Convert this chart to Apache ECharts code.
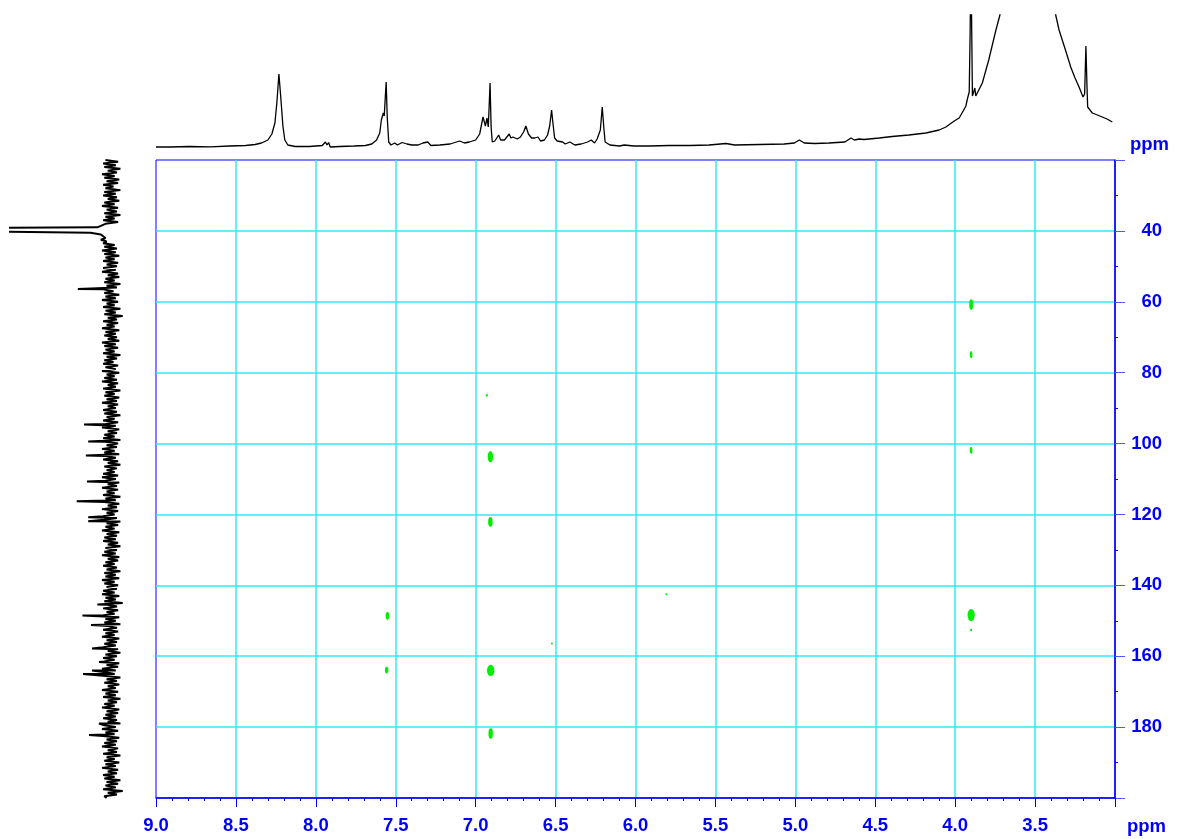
<!DOCTYPE html>
<html>
<head>
<meta charset="utf-8">
<title>HMBC</title>
<script src="https://cdn.jsdelivr.net/npm/echarts@6/dist/echarts.min.js"></script>
<style>
  html, body { margin: 0; padding: 0; background: #ffffff; }
  #chart { width: 1177px; height: 839px; }
</style>
</head>
<body>
<div id="chart"></div>
<script>
// ---- 1H projection (F2, top): [ppm, intensity] ----
const protonTrace = [
  [9.0,1],[8.91,1],[8.79,1.5],[8.66,1.2],[8.54,2],[8.44,2.5],[8.38,3.5],[8.34,5],[8.30,8],[8.275,14],
  [8.256,25],[8.244,45],[8.231,74],[8.219,50],[8.206,22],[8.194,8],[8.175,3],[8.13,1.5],[8.04,1.5],[7.96,2.5],
  [7.94,6],[7.93,3],[7.92,5.5],[7.91,1],[7.85,1.5],[7.76,2],[7.69,2.5],[7.65,4],[7.62,8],[7.60,15],
  [7.59,28],[7.578,35],[7.572,32],[7.56,66],[7.553,30],[7.544,6],[7.53,3],[7.506,5],[7.49,3],[7.46,5.5],
  [7.43,4],[7.40,3],[7.36,3],[7.33,5],[7.32,3],[7.30,6],[7.28,2.5],[7.225,3],[7.16,4],[7.10,7],
  [7.07,5],[7.04,6],[7.0,8],[6.975,14],[6.954,31],[6.939,22],[6.929,30],[6.921,21],[6.916,40],[6.91,65],
  [6.903,20],[6.896,6],[6.88,7],[6.856,13],[6.844,8],[6.833,9],[6.82,8],[6.79,14],[6.78,10],[6.767,11],
  [6.74,9],[6.72,11],[6.70,16],[6.686,22],[6.67,14],[6.65,10],[6.63,10],[6.62,8],[6.61,11],[6.594,7],
  [6.57,8],[6.55,13],[6.537,22],[6.525,38],[6.516,24],[6.506,10],[6.49,7],[6.456,6],[6.44,4],[6.41,6],
  [6.38,3],[6.34,4],[6.30,6],[6.277,8],[6.256,5],[6.24,9],[6.22,18],[6.208,41],[6.197,18],[6.19,6],
  [6.16,3],[6.10,2],[6.07,3],[6.01,2],[5.91,2],[5.79,2.5],[5.66,2.5],[5.54,3],[5.433,4.5],[5.38,3],
  [5.225,3.5],[5.07,4],[5.006,5],[4.975,8],[4.944,5],[4.88,4.5],[4.79,5],[4.69,6],[4.652,10],[4.63,8],
  [4.60,9],[4.57,8.5],[4.475,10],[4.394,11.5],[4.29,13],[4.183,15],[4.10,18],[4.058,21],[4.006,27],[3.975,30],
  [3.95,37],[3.933,42],[3.922,50],[3.912,56],[3.906,120],[3.902,200],[3.897,200],[3.892,52],[3.884,54],[3.877,60],
  [3.871,52],[3.86,53],[3.83,65],[3.79,88],[3.745,118],[3.72,133],[3.69,170],[3.55,260],[3.45,260],[3.40,170],
  [3.371,133],[3.35,118],[3.33,108],[3.306,96],[3.277,81],[3.25,70],[3.225,61],[3.20,51],[3.19,54],[3.182,102],
  [3.175,60],[3.171,41],[3.142,35],[3.11,33],[3.08,31],[3.05,29],[3.017,26]
];

// ---- 13C projection (F1, left): baseline trace every 0.5 ppm from 20 ppm ----
const carbonStart = 20;
const carbonStep = 0.5;
const carbonBaseline = [
  5,-6,7,-4,6,-8,3,-5,8,-3,6,-7,4,-6,7,-2,5,-8,6,-4,
  7,-5,3,-7,6,-3,8,-6,4,-5,6,-8,5,-3,7,-6,5,4,12,300,
  300,18,9,7,5,9,4,7,-3,6,-5,8,-4,6,-7,5,-3,7,-6,4,
  -5,7,-4,8,-6,3,-7,5,-3,6,-8,4,-5,7,-2,6,-7,5,-4,8,
  -6,4,-3,7,-8,5,-4,6,-10,3,-5,7,-6,4,-3,8,-7,5,-4,6,
  -5,3,-7,8,-4,6,-6,5,-3,7,-8,4,-5,6,-2,7,-6,5,-4,8,
  -7,4,-3,6,-5,8,-6,3,-4,7,-8,5,-3,6,-7,4,-5,8,-6,3,
  -4,7,-5,6,-8,4,-3,7,-6,5,-4,8,-7,3,-5,6,-3,7,-8,5,
  -6,4,-5,8,-3,6,-7,5,-4,7,-6,3,-8,6,-5,4,-3,7,-6,8,
  -4,5,-7,3,-5,8,-6,4,-3,7,-8,5,-4,6,-7,3,-5,8,-6,4,
  -3,7,-5,6,-8,4,-6,5,-3,8,-7,4,-5,6,-4,7,-6,3,-8,5,
  -5,6,-4,8,-7,3,-6,5,-3,7,-5,4,-8,6,-4,5,-7,8,-3,6,
  -6,4,-5,7,-3,8,-7,5,-4,6,-10,3,-5,7,-6,4,-3,8,-7,5,
  -4,6,-8,3,-5,7,-6,5,-3,8,-7,4,-5,6,-4,7,-6,3,-8,5,
  -5,7,-3,6,-7,4,-6,8,-4,5,-3,7,-8,4,-5,6,-7,3,-4,8,
  -6,5,-4,7,-8,3,-5,6,-3,8,-7,4,-6,5,-4,7,-5,3,-8,6,
  -4,8,-6,5,-3,7,-7,4,-5,6,-4,8,-6,3,-5,7,-8,4,-3,6,
  -7,5,-4,8,-6,3,-5,7,-3,6,-8,4,-6,5,-4,7,-10,3,-5,6,
  4
];
// sharp carbon resonances: [ppm, height]
const carbonLines = [
  [56.4,29],[94.6,23.6],[99.4,20],[103.4,22],[110.7,21],[116.3,30],[120.8,20],[121.9,20],
  [145.4,12],[148.5,25],[151.2,17.5],[157.8,16.7],[161.6,10.6],[164.0,16.7],[165.0,24.5],
  [179.0,10.6],[182.2,19.3]
];

// ---- HMBC cross peaks: 1H shift, 13C shift, contour extent in 1H and 13C (ppm) ----
const peakH    = [3.90, 3.90, 3.90, 3.90, 3.90, 6.93, 6.908, 6.908, 7.552, 7.557, 6.906, 6.906, 6.523, 5.806];
const peakC    = [60.8, 74.9, 101.9, 148.4, 152.6, 86.4, 103.7, 122.1, 148.6, 163.9, 164.0, 181.8, 156.4, 142.5];
const spanH    = [0.024, 0.016, 0.016, 0.045, 0.013, 0.013, 0.034, 0.028, 0.022, 0.022, 0.046, 0.028, 0.013, 0.013];
const spanC    = [3.0, 2.0, 2.0, 3.5, 0.7, 0.7, 3.2, 2.7, 2.2, 1.9, 3.2, 3.0, 0.55, 0.55];

// ---- axis ranges / ticks ----
const f2Range = [3, 9];
const f1Range = [20, 200];
const f2Step = 0.5;
const f1Step = 20;

// build series data
const carbonTrace = carbonBaseline
  .map((v, i) => [v, carbonStart + i * carbonStep])
  .concat(carbonLines.map(([c, h]) => [h, c]))
  .sort((a, b) => a[1] - b[1]);

const crossPeaks = peakH.map((h, i) => [h, peakC[i], spanH[i], spanC[i]]);

const BLUE = '#0000ff';
const CYAN = '#30e8f8';
const FONT = '"Liberation Sans", Arial, sans-serif';

const chart = echarts.init(document.getElementById('chart'), null, { renderer: 'canvas' });

const option = {
  backgroundColor: '#ffffff',
  animation: false,
  grid: [
    // 2D map
    { left: 156, top: 160, width: 959, height: 638, show: true, borderColor: BLUE, borderWidth: 1, backgroundColor: 'transparent' },
    // 1H projection
    { left: 156, top: 15, width: 959, height: 135 },
    // 13C projection
    { left: 10, top: 160, width: 115, height: 638 }
  ],
  xAxis: [
    {
      gridIndex: 0, type: 'value', min: f2Range[0], max: f2Range[1], interval: f2Step, inverse: true,
      axisLine: { show: true, onZero: false, lineStyle: { color: BLUE, width: 1.5 } },
      axisTick: { show: true, length: 9, lineStyle: { color: BLUE, width: 1 } },
      minorTick: { show: true, splitNumber: 5, length: 3, lineStyle: { color: BLUE, width: 1 } },
      splitLine: { show: true, showMinLine: false, showMaxLine: false, lineStyle: { color: CYAN, width: 1.5 } },
      axisLabel: {
        show: true, margin: 18, color: BLUE, fontFamily: FONT, fontWeight: 'bold', fontSize: 18.5,
        formatter: v => (v <= f2Range[0] + 1e-9 ? '' : v.toFixed(1)),
        showMinLabel: true, showMaxLabel: true
      }
    },
    { gridIndex: 1, type: 'value', min: f2Range[0], max: f2Range[1], inverse: true, show: false },
    { gridIndex: 2, type: 'value', min: -12, max: 88, inverse: true, show: false }
  ],
  yAxis: [
    {
      gridIndex: 0, type: 'value', position: 'right', min: f1Range[0], max: f1Range[1], interval: f1Step, inverse: true,
      axisLine: { show: true, onZero: false, lineStyle: { color: BLUE, width: 1.5 } },
      axisTick: { show: true, length: 10, lineStyle: { color: '#5555ff', width: 1 } },
      minorTick: { show: true, splitNumber: 2, length: 3, lineStyle: { color: BLUE, width: 1 } },
      splitLine: { show: true, showMinLine: false, showMaxLine: false, lineStyle: { color: CYAN, width: 1.5 } },
      axisLabel: {
        show: true, margin: 47, align: 'right', color: BLUE, fontFamily: FONT, fontWeight: 'bold', fontSize: 18.5,
        formatter: v => (v <= f1Range[0] || v >= f1Range[1] ? '' : String(v))
      }
    },
    { gridIndex: 1, type: 'value', min: -2, max: 133, show: false },
    { gridIndex: 2, type: 'value', min: f1Range[0], max: f1Range[1], inverse: true, show: false }
  ],
  series: [
    {
      type: 'custom', name: 'HMBC', xAxisIndex: 0, yAxisIndex: 0, data: crossPeaks, z: 5,
      renderItem: (params, api) => {
        const c = api.coord([api.value(0), api.value(1)]);
        const s = api.size([api.value(2), api.value(3)]);
        return {
          type: 'circle',
          x: c[0], y: c[1],
          scaleX: Math.max(Math.abs(s[0]) / 2, 0.9),
          scaleY: Math.max(Math.abs(s[1]) / 2, 0.9),
          shape: { cx: 0, cy: 0, r: 1 },
          style: { fill: '#00ee00' }
        };
      }
    },
    {
      type: 'line', name: '1H', xAxisIndex: 1, yAxisIndex: 1, data: protonTrace,
      showSymbol: false, symbol: 'none', clip: true,
      lineStyle: { color: '#000000', width: 1.3 }
    },
    {
      type: 'line', name: '13C', xAxisIndex: 2, yAxisIndex: 2, data: carbonTrace,
      showSymbol: false, symbol: 'none', clip: true, sampling: null,
      lineStyle: { color: '#000000', width: 2 }
    }
  ],
  graphic: [
    { type: 'text', left: 1130, top: 135, style: { text: 'ppm', fill: BLUE, font: 'bold 18.5px ' + FONT } },
    { type: 'text', left: 1127, top: 817, style: { text: 'ppm', fill: BLUE, font: 'bold 18.5px ' + FONT } }
  ]
};

chart.setOption(option);
</script>
</body>
</html>
